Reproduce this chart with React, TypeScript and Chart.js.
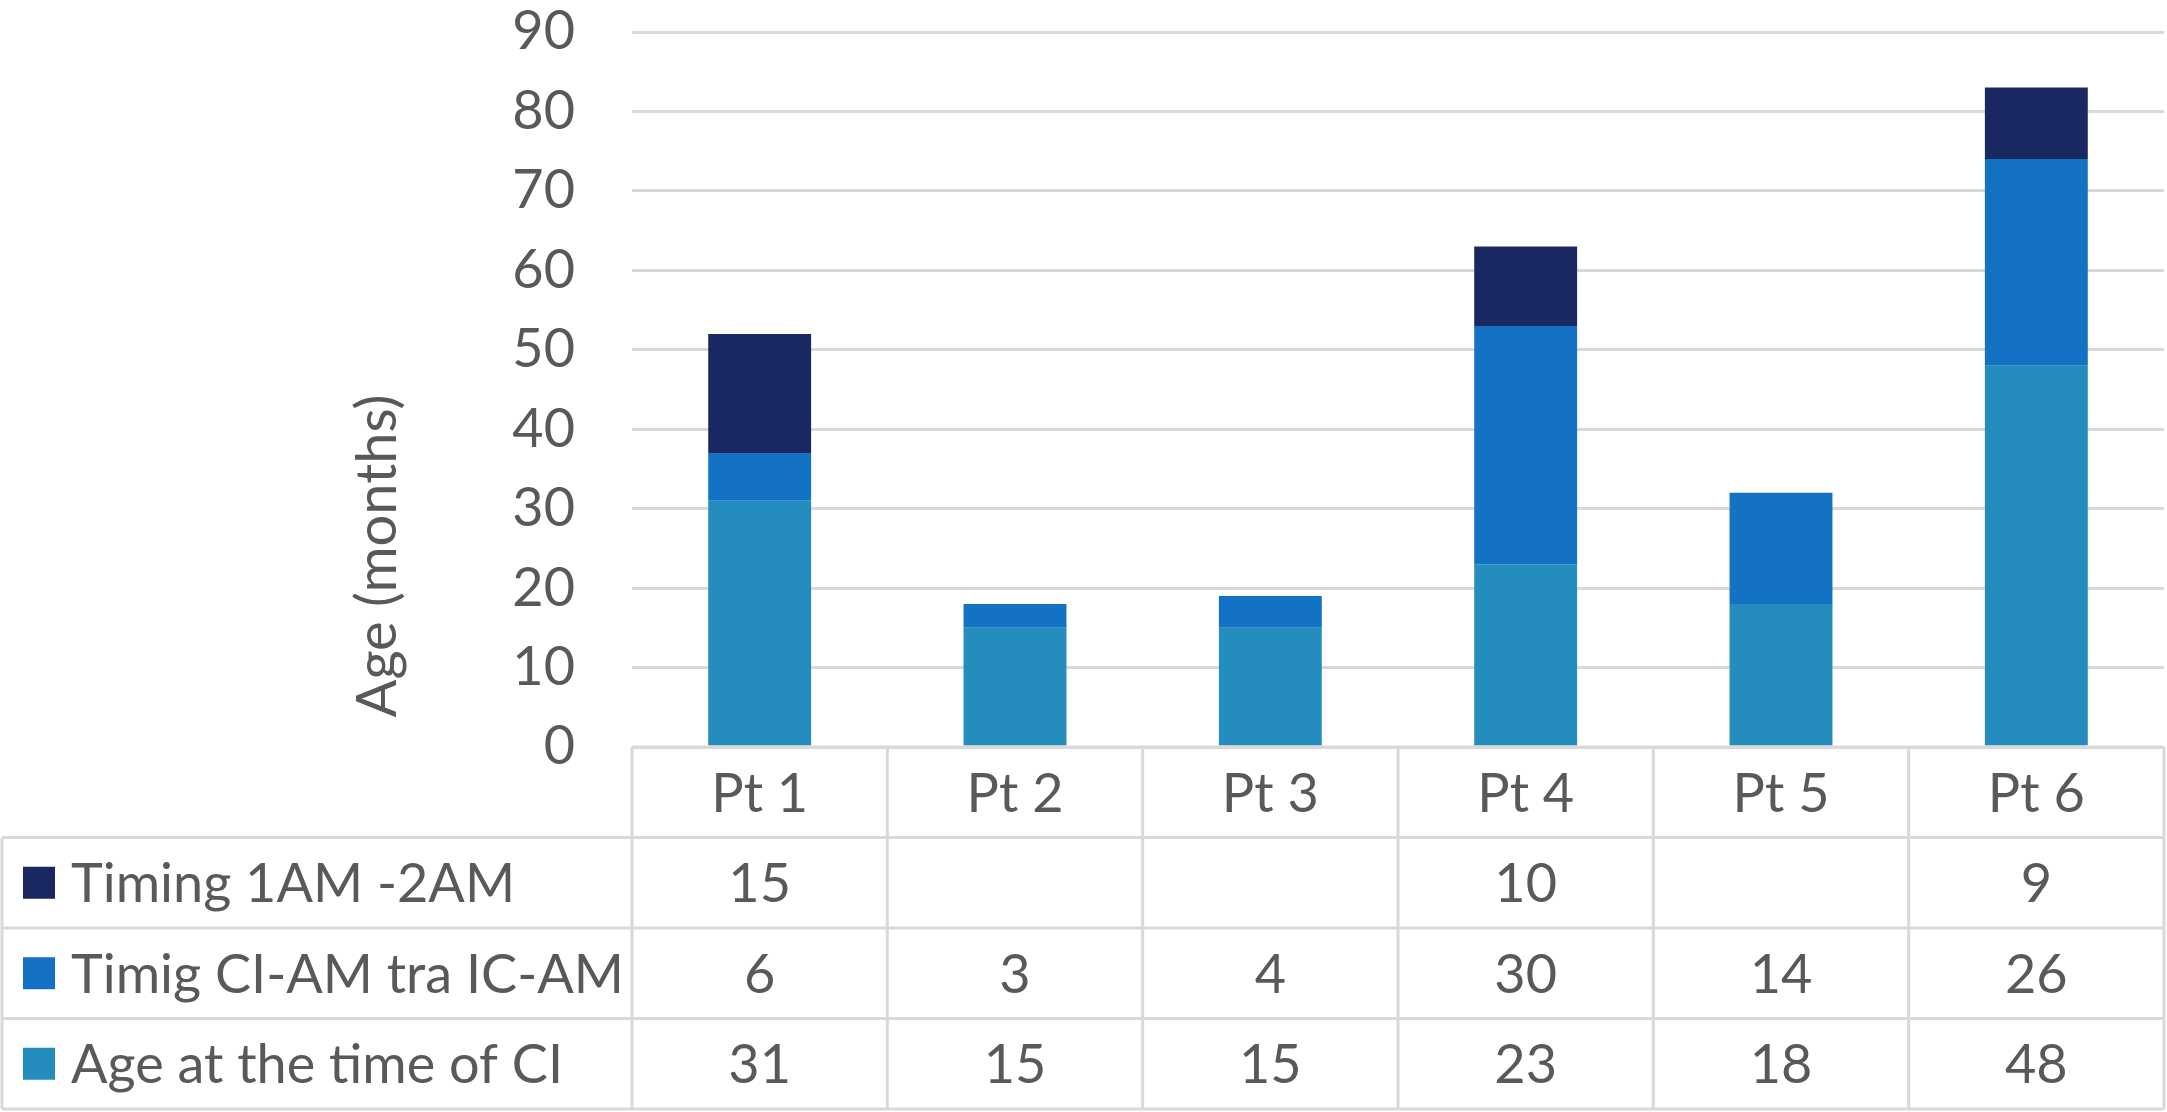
import React, { useEffect, useRef } from "react";
import { Chart, registerables } from "chart.js";

Chart.register(...registerables);

const categories = ["Pt 1", "Pt 2", "Pt 3", "Pt 4", "Pt 5", "Pt 6"];
const ageAtCI = [31, 15, 15, 23, 18, 48];
const timingCIAM = [6, 3, 4, 30, 14, 26];
const timing1AM2AM: (number | null)[] = [15, null, null, 10, null, 9];

const seriesNames = ["Age at the time of CI", "Timig CI-AM tra IC-AM", "Timing 1AM -2AM"];
const seriesColors = ["#258dbe", "#1472c4", "#1a2861"];
const yTitle = "Age (months)";

const FONT = "Lato";
const FS = 54;
const TEXT = "#595959";
const GRID = "#d9d9d9";

const tablePlugin = {
  id: "dataTable",
  afterDraw(chart: any) {
    const ctx = chart.ctx;
    const ca = chart.chartArea;
    const xs = chart.scales.x;
    const n = categories.length;
    const catW = (ca.right - ca.left) / n;
    const top = ca.bottom;
    const bottom = 1109;
    const rh = (bottom - top) / 4;
    const tableLeft = 2;

    ctx.save();
    ctx.strokeStyle = GRID;
    ctx.lineWidth = 3;
    ctx.beginPath();
    ctx.moveTo(ca.left, top);
    ctx.lineTo(ca.right, top);
    for (let r = 1; r <= 4; r++) {
      const y = top + r * rh;
      ctx.moveTo(tableLeft, y);
      ctx.lineTo(ca.right, y);
    }
    ctx.moveTo(tableLeft, top + rh);
    ctx.lineTo(tableLeft, bottom);
    for (let i = 0; i <= n; i++) {
      const x = ca.left + i * catW;
      ctx.moveTo(x, top);
      ctx.lineTo(x, bottom);
    }
    ctx.stroke();

    ctx.fillStyle = TEXT;
    ctx.font = `${FS}px ${FONT}`;
    ctx.textAlign = "center";
    ctx.textBaseline = "middle";
    categories.forEach((c, i) => {
      ctx.fillText(c, xs.getPixelForValue(i), top + rh / 2 + 2);
    });

    const rows = [
      { name: seriesNames[2], color: seriesColors[2], vals: timing1AM2AM },
      { name: seriesNames[1], color: seriesColors[1], vals: timingCIAM },
      { name: seriesNames[0], color: seriesColors[0], vals: ageAtCI },
    ];
    rows.forEach((row, r) => {
      const cy = top + (r + 1) * rh + rh / 2;
      ctx.fillStyle = row.color;
      ctx.fillRect(23, cy - 16, 32, 32);
      ctx.fillStyle = TEXT;
      ctx.textAlign = "left";
      ctx.fillText(row.name, 71, cy + 2);
      ctx.textAlign = "center";
      row.vals.forEach((v, i) => {
        if (v !== null && v !== undefined) ctx.fillText(String(v), xs.getPixelForValue(i), cy + 2);
      });
    });

    ctx.translate(378, 556);
    ctx.rotate(-Math.PI / 2);
    ctx.textAlign = "center";
    ctx.font = `${FS + 2}px ${FONT}`;
    ctx.fillText(yTitle, 0, 0);
    ctx.restore();
  },
};

export default function App() {
  const ref = useRef<HTMLCanvasElement | null>(null);
  useEffect(() => {
    document.body.style.margin = "0";
    document.body.style.overflow = "hidden";
    const chart = new Chart(ref.current as HTMLCanvasElement, {
      type: "bar",
      data: {
        labels: categories,
        datasets: [
          { label: seriesNames[0], data: ageAtCI, backgroundColor: seriesColors[0] },
          { label: seriesNames[1], data: timingCIAM, backgroundColor: seriesColors[1] },
          { label: seriesNames[2], data: timing1AM2AM, backgroundColor: seriesColors[2] },
        ],
      },
      options: {
        responsive: false,
        animation: false,
        devicePixelRatio: 1,
        layout: { padding: { left: 0, top: 32, right: 3, bottom: 365 } },
        datasets: { bar: { categoryPercentage: 1, barPercentage: 0.403 } },
        plugins: { legend: { display: false }, tooltip: { enabled: false } },
        scales: {
          x: { stacked: true, display: false },
          y: {
            stacked: true,
            min: 0,
            max: 90,
            ticks: {
              stepSize: 10,
              padding: 57,
              color: TEXT,
              font: { family: FONT, size: FS, lineHeight: 1 },
            },
            grid: { color: GRID, lineWidth: 3, drawTicks: false },
            border: { display: false },
            afterFit: (s: any) => {
              s.width = 632;
              s.paddingTop = 0;
              s.paddingBottom = 0;
            },
          },
        },
      },
      plugins: [tablePlugin],
    });
    return () => chart.destroy();
  }, []);
  return (
    <div style={{ position: "absolute", left: 0, top: 0, width: 2167, height: 1112 }}>
      <canvas ref={ref} width={2167} height={1112} />
    </div>
  );
}
